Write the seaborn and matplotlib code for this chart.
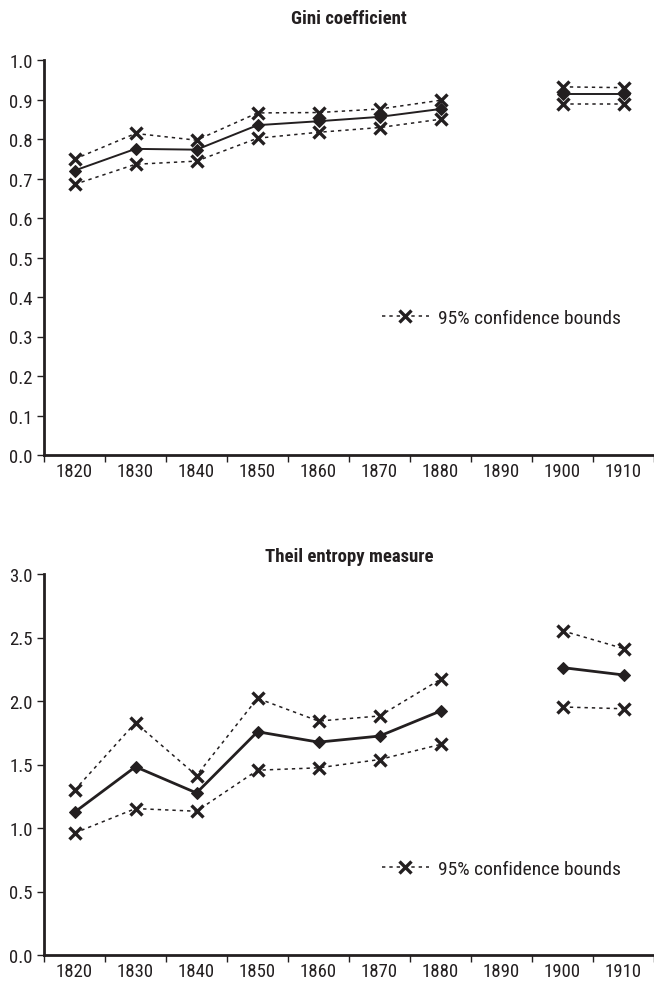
import matplotlib
matplotlib.use("Agg")
import matplotlib.pyplot as plt
import numpy as np
import pandas as pd
import seaborn as sns

# Decade categories on the horizontal axis (1890 has no observation)
categories = ["1820", "1830", "1840", "1850", "1860", "1870", "1880", "1890", "1900", "1910"]
years = ["1820", "1830", "1840", "1850", "1860", "1870", "1880", "1900", "1910"]

# Gini coefficient with 95% confidence bounds
gini = [0.720, 0.775, 0.773, 0.835, 0.845, 0.856, 0.876, 0.913, 0.913]
gini_upper = [0.749, 0.814, 0.797, 0.866, 0.867, 0.876, 0.898, 0.932, 0.930]
gini_lower = [0.685, 0.736, 0.744, 0.802, 0.817, 0.829, 0.850, 0.888, 0.888]

# Theil entropy measure with 95% confidence bounds
theil = [1.124, 1.482, 1.276, 1.758, 1.676, 1.724, 1.921, 2.263, 2.205]
theil_upper = [1.297, 1.829, 1.413, 2.021, 1.842, 1.882, 2.171, 2.553, 2.413]
theil_lower = [0.960, 1.153, 1.132, 1.455, 1.474, 1.539, 1.658, 1.953, 1.939]

y_ticks_gini = [0.0, 0.1, 0.2, 0.3, 0.4, 0.5, 0.6, 0.7, 0.8, 0.9, 1.0]
y_ticks_theil = [0.0, 0.5, 1.0, 1.5, 2.0, 2.5, 3.0]

sns.set_theme(style="white")
plt.rcParams["font.family"] = ["Roboto Condensed", "DejaVu Sans Condensed",
                               "Liberation Sans Narrow", "Roboto", "DejaVu Sans"]
plt.rcParams["font.stretch"] = "condensed"

INK = "#231f20"
FS = 13.5
W, H = 654, 987


def build_frame(est, upper, lower):
    pos = [categories.index(y) for y in years]
    # contiguous runs of decades form separate line segments
    seg = []
    s = 0
    for i, p in enumerate(pos):
        if i > 0 and p - pos[i - 1] > 1:
            s += 1
        seg.append(s)
    return pd.DataFrame({"x": pos, "seg": seg, "est": est, "upper": upper, "lower": lower})


def draw_panel(ax, df, ymax, yticks, legend_anchor, main_lw):
    bound_style = dict(color=INK, lw=1.1, linestyle=(0, (2.2, 2.6)), marker="x",
                       markersize=8.5, markeredgewidth=2.4, markeredgecolor=INK)
    sns.lineplot(data=df, x="x", y="upper", units="seg", estimator=None, ax=ax,
                 label="95% confidence bounds", **bound_style)
    sns.lineplot(data=df, x="x", y="lower", units="seg", estimator=None, ax=ax,
                 label="_nolegend_", **bound_style)
    sns.lineplot(data=df, x="x", y="est", units="seg", estimator=None, ax=ax,
                 color=INK, lw=main_lw, marker="D", markersize=6.5,
                 markeredgecolor=INK, markerfacecolor=INK, label="_nolegend_")

    ax.set_xlim(-0.5, len(categories) - 0.5)
    ax.set_ylim(0, ymax)
    ax.set_yticks(yticks)
    ax.set_yticklabels([f"{v:.1f}" for v in yticks])
    # category labels centred, tick marks between categories
    ax.set_xticks(np.arange(len(categories)))
    ax.set_xticklabels(categories)
    ax.set_xticks(np.arange(len(categories) + 1) - 0.5, minor=True)
    ax.tick_params(axis="x", which="major", length=0, pad=5.0, labelsize=FS, colors=INK)
    ax.tick_params(axis="x", which="minor", length=5, width=1.0, direction="out",
                   bottom=True, color=INK)
    ax.tick_params(axis="y", length=5, width=1.0, direction="out", left=True,
                   pad=3.0, labelsize=FS, colors=INK)
    ax.set_xlabel("")
    ax.set_ylabel("")
    for side in ("top", "right"):
        ax.spines[side].set_visible(False)
    for side in ("left", "bottom"):
        ax.spines[side].set_color(INK)
        ax.spines[side].set_linewidth(2.0)
    ax.grid(False)

    handles, labels = ax.get_legend_handles_labels()
    ax.legend(handles[:1], labels[:1], loc="center left", bbox_to_anchor=legend_anchor,
              frameon=False, fontsize=14, handlelength=2.4, handletextpad=0.5,
              borderaxespad=0, borderpad=0, labelcolor=INK)


fig = plt.figure(figsize=(W / 100, H / 100), dpi=100)
# axes boxes in pixel terms: x 44..654, top panel y 61..456, bottom panel y 575..956
ax1 = fig.add_axes([44 / W, 1 - 456 / H, 610 / W, 395 / H])
ax2 = fig.add_axes([44 / W, 1 - 956 / H, 610 / W, 381 / H])

draw_panel(ax1, build_frame(gini, gini_upper, gini_lower), 1.0, y_ticks_gini,
           ((382 - 44) / 610, (456 - 319) / 395), 1.4)
draw_panel(ax2, build_frame(theil, theil_upper, theil_lower), 3.0, y_ticks_theil,
           ((382 - 44) / 610, (956 - 870) / 381), 2.0)

fig.text(349 / W, 1 - 19 / H, "Gini coefficient", ha="center", va="center",
         fontsize=13.5, fontweight="bold", color=INK)
fig.text(349 / W, 1 - 557 / H, "Theil entropy measure", ha="center", va="center",
         fontsize=13.5, fontweight="bold", color=INK)

fig.savefig("out.png", dpi=100, facecolor="white")
